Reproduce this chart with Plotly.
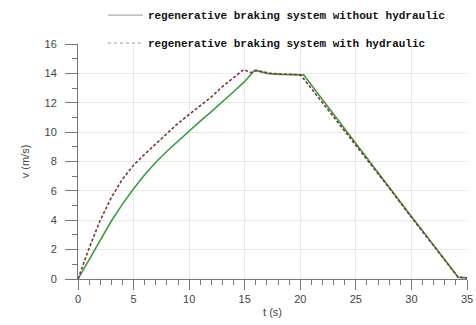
import plotly.graph_objects as go

# Data
t_without = [0, 1, 2, 3, 4, 5, 6, 7, 8, 9, 10, 11, 12, 13, 14, 15, 15.9, 17, 18.2, 20.3, 22, 24, 26, 28, 30, 32, 34.2, 35]
v_without = [0, 1.35, 2.7, 3.95, 5.1, 6.15, 7.1, 7.95, 8.7, 9.4, 10.1, 10.75, 11.4, 12.05, 12.75, 13.45, 14.22, 14.0, 13.93, 13.9, 12.2, 10.2, 8.25, 6.25, 4.25, 2.3, 0.12, 0.08]

t_with = [0, 0.5, 1, 2, 3, 4, 5, 6, 7, 8, 9, 10, 11, 12, 13, 14, 14.9, 15.6, 16.1, 17.3, 20.0, 20.5, 22, 24, 26, 28, 30, 32, 34.2, 35]
v_with = [0, 1.1, 2.1, 4.0, 5.55, 6.8, 7.75, 8.5, 9.2, 9.95, 10.6, 11.2, 11.8, 12.4, 13.1, 13.7, 14.25, 14.05, 14.2, 14.0, 13.9, 13.45, 12.0, 10.1, 8.15, 6.2, 4.2, 2.25, 0.12, 0.08]

name_without = "regenerative braking system without hydraulic"
name_with = "regenerative braking system with hydraulic"

x_ticks = [0, 5, 10, 15, 20, 25, 30, 35]
y_ticks = [0, 2, 4, 6, 8, 10, 12, 14, 16]

fig = go.Figure()

# real data traces
fig.add_trace(go.Scatter(x=t_without, y=v_without, mode="lines", showlegend=False,
                         line=dict(color="#3f9a46", width=1.6)))
fig.add_trace(go.Scatter(x=t_with, y=v_with, mode="lines", showlegend=False,
                         line=dict(color="#7a3838", width=1.6, dash="3px,2px")))

# legend entries (grey samples as in the reference)
fig.add_trace(go.Scatter(x=[None], y=[None], mode="lines", name=name_without,
                         line=dict(color="#9a9a9a", width=1), legend="legend"))
fig.add_trace(go.Scatter(x=[None], y=[None], mode="lines", name=name_with,
                         line=dict(color="#9a9a9a", width=1, dash="dot"), legend="legend2"))

legend_font = dict(family="Liberation Mono", size=11, color="#111", weight="bold")

fig.update_layout(
    width=476, height=325,
    margin=dict(l=78, r=9, t=44, b=46, autoexpand=False),
    paper_bgcolor="white", plot_bgcolor="white",
    font=dict(family="Liberation Sans", size=11, color="#444"),
    legend=dict(x=0.064, xanchor="left", y=1.123, yanchor="middle",
                font=legend_font, bgcolor="rgba(0,0,0,0)", itemwidth=35),
    legend2=dict(x=0.064, xanchor="left", y=1.004, yanchor="middle",
                 font=legend_font, bgcolor="rgba(0,0,0,0)", itemwidth=35),
    xaxis=dict(range=[0, 35], tickvals=x_ticks, ticks="outside", ticklen=10,
               tickcolor="#777", showline=True, linecolor="#777", linewidth=1,
               showgrid=True, gridcolor="#e9e9e9", zeroline=False,
               minor=dict(dtick=1, ticks="outside", ticklen=5, tickcolor="#777", showgrid=False),
               title=dict(text="t (s)", standoff=4, font=dict(size=11, color="#444"))),
    yaxis=dict(range=[0, 16], tickvals=y_ticks, ticks="outside", ticklen=12,
               tickcolor="#777", showline=True, linecolor="#777", linewidth=1,
               showgrid=True, gridcolor="#e9e9e9", zeroline=False,
               ticklabelstandoff=6,
               minor=dict(dtick=1, ticks="outside", ticklen=5, tickcolor="#777", showgrid=False),
               title=dict(text="v (m/s)", standoff=12, font=dict(size=11, color="#444"))),
)

fig.write_html("out.html")
